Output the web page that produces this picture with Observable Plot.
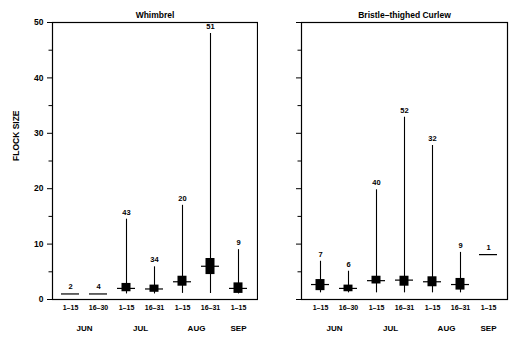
<!DOCTYPE html>
<html><head><meta charset="utf-8">
<script src="https://cdn.jsdelivr.net/npm/d3@7"></script>
<script src="https://cdn.jsdelivr.net/npm/@observablehq/plot@0.6"></script>
<style>
body{margin:0;background:#fff}
#wrap{display:flex;width:516px;height:340px}
</style></head><body><div id="wrap"></div>
<script>
const periods = ["1–15","16–30","1–15","16–31","1–15","16–31","1–15"];
const months = ["JUN","JUN","JUL","JUL","AUG","AUG","SEP"];
const keys = periods.map((p,i)=>months[i]+" "+p);
const yMajor = [0,10,20,30,40,50];
const yMinor = [5,15,25,35,45];

const whimN   = [2,4,43,34,20,51,9];
const whimMin = [1,1,1,1,1.1,1.1,1];
const whimMax = [1,1,14.5,5.9,17,48,9];
const whimQ1  = [null,null,1.4,1.3,2.4,4.5,1.1];
const whimQ3  = [null,null,2.9,2.6,4.2,7.4,3.0];
const whimMed = [1,1,2.0,1.9,3.2,6.0,2.0];

const curN   = [7,6,40,52,32,9,1];
const curMin = [1.2,1.2,1.2,1.2,1.2,1.2,8.1];
const curMax = [6.9,5.1,19.8,32.9,27.8,8.5,8.1];
const curQ1  = [1.6,1.4,2.8,2.4,2.3,1.7,null];
const curQ3  = [3.6,2.6,4.2,4.2,4.1,3.8,null];
const curMed = [2.7,2.0,3.4,3.5,3.2,2.7,8.1];

function panel(title, n, mn, mx, q1, q3, med, opt) {
  const rows = keys.map((k,i)=>({key:k, n:n[i], min:mn[i], max:mx[i], q1:q1[i], q3:q3[i], med:med[i]}));
  const firstOf = keys.filter((k,i)=>i===0 || months[i]!==months[i-1]);
  const pairMonths = firstOf.filter(k=>months.filter(m=>m===k.split(" ")[0]).length===2);
  const singleMonths = firstOf.filter(k=>!pairMonths.includes(k));
  const font = {fontSize:7.5, fontWeight:"bold"};
  const marks = [
    Plot.frame({strokeWidth:1.2}),
    Plot.axisY({ticks:yMajor, tickSize:5, tickPadding:4, label:null, tickFormat: opt.yLabels ? (d=>d) : (()=>""), fontSize:8.5, fontWeight:"bold"}),
    Plot.axisY({ticks:yMinor, tickSize:3.5, label:null, tickFormat:()=>""}),
    Plot.axisX({tickSize:0, tickPadding:6, label:null, tickFormat:d=>d.split(" ")[1], fontSize:7, fontWeight:"bold"}),
    Plot.text(pairMonths, {x:d=>d, text:d=>d.split(" ")[0], frameAnchor:"bottom", dy:31, dx:14, fontSize:8, fontWeight:"bold"}),
    Plot.text(singleMonths, {x:d=>d, text:d=>d.split(" ")[0], frameAnchor:"bottom", dy:31, fontSize:8, fontWeight:"bold"}),
    Plot.text([title], {frameAnchor:"top", dy:-11, fontSize:8.5, fontWeight:"bold"}),
    Plot.ruleX(rows.filter(d=>d.max>d.min), {x:"key", y1:"min", y2:"max", strokeWidth:1.1}),
    Plot.barY(rows.filter(d=>d.q1!=null), {x:"key", y1:"q1", y2:"q3", fill:"black", insetLeft:4.5, insetRight:4.5}),
    Plot.tickY(rows, {x:"key", y:"med", strokeWidth:1.2}),
    Plot.text(rows, {x:"key", y:"max", text:"n", dy:-7, ...font})
  ];
  if (opt.yLabel) marks.push(Plot.text([opt.yLabel], {frameAnchor:"left", dx:-36, rotate:-90, fontSize:8.5, fontWeight:"bold"}));
  return Plot.plot({
    width:258, height:340, marginTop:22, marginBottom:41,
    marginLeft:opt.marginLeft, marginRight:opt.marginRight,
    style:{fontFamily:"'Liberation Sans', Arial, sans-serif", background:"white"},
    x:{type:"band", domain:keys, paddingInner:0.35, paddingOuter:0.33},
    y:{domain:[0,50]},
    marks
  });
}

const wrap = document.getElementById("wrap");
wrap.appendChild(panel("Whimbrel", whimN, whimMin, whimMax, whimQ1, whimQ3, whimMed, {marginLeft:52, marginRight:1, yLabels:true, yLabel:"FLOCK SIZE"}));
wrap.appendChild(panel("Bristle–thighed Curlew", curN, curMin, curMax, curQ1, curQ3, curMed, {marginLeft:43, marginRight:9, yLabels:false}));
</script></body></html>
